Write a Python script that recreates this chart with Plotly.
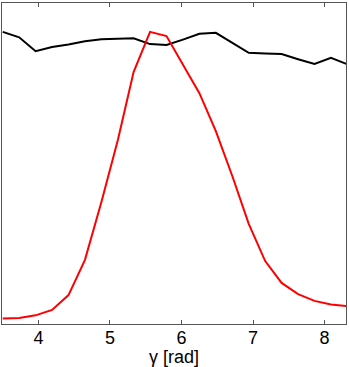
import plotly.graph_objects as go

# gamma samples (rad)
gamma = [3.50, 3.73, 3.96, 4.19, 4.42, 4.65, 4.88, 5.11, 5.33, 5.56, 5.79,
         6.02, 6.25, 6.48, 6.71, 6.94, 7.17, 7.40, 7.63, 7.86, 8.09, 8.31]

# black curve (arbitrary units)
black_vals = [0.910, 0.893, 0.850, 0.863, 0.871, 0.881, 0.887, 0.889, 0.890, 0.872, 0.869,
              0.886, 0.904, 0.907, 0.877, 0.845, 0.843, 0.841, 0.825, 0.810, 0.829, 0.810]

# red curve (arbitrary units)
red_vals = [0.017, 0.019, 0.027, 0.044, 0.090, 0.200, 0.380, 0.573, 0.785, 0.910, 0.897,
            0.810, 0.719, 0.601, 0.461, 0.312, 0.196, 0.128, 0.093, 0.072, 0.061, 0.056]

fig = go.Figure()
fig.add_trace(go.Scatter(x=gamma, y=black_vals, mode="lines",
                         line=dict(color="black", width=2)))
fig.add_trace(go.Scatter(x=gamma, y=red_vals, mode="lines",
                         line=dict(color="#ff0000", width=2)))

axis_col = "#555555"
fig.update_layout(
    width=349, height=367,
    margin=dict(l=2, r=3, t=3, b=43),
    paper_bgcolor="white", plot_bgcolor="white",
    showlegend=False,
    font=dict(family="Liberation Sans, Arial", size=18, color="black"),
    xaxis=dict(range=[3.49, 8.30], tickvals=[4, 5, 6, 7, 8],
               ticks="inside", ticklen=4, tickcolor=axis_col,
               ticklabelstandoff=-3,
               showline=True, linecolor=axis_col, linewidth=1, mirror="ticks",
               showgrid=False, zeroline=False, automargin=False),
    yaxis=dict(range=[0, 1], showticklabels=False, ticks="",
               showline=True, linecolor=axis_col, linewidth=1, mirror=True,
               showgrid=False, zeroline=False, automargin=False),
)

# axis title placed by hand so it sits under the tick labels
fig.add_annotation(text="γ [rad]", xref="paper", yref="paper",
                   x=0.5, y=-33 / 321, yanchor="middle", showarrow=False,
                   font=dict(size=18))

# drop the browser's default body margin so the figure sits at 0,0
fig.write_html("out.html", config={"displayModeBar": False},
               post_script="document.body.style.margin='0';")
